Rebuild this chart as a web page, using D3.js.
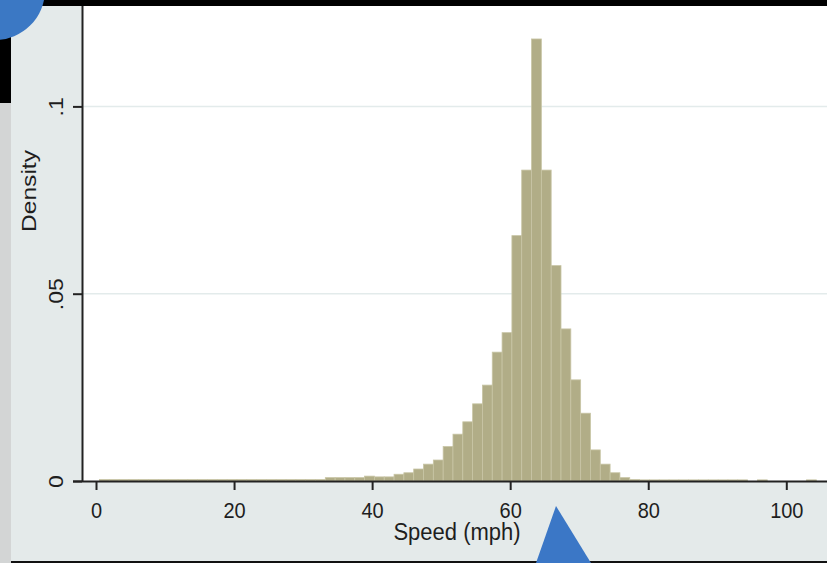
<!DOCTYPE html>
<html>
<head>
<meta charset="utf-8">
<script src="https://cdn.jsdelivr.net/npm/d3@7"></script>
<style>
  body { margin: 0; background: #e4eaea; }
  text { font-family: Arial, "Liberation Sans", sans-serif; fill: #1e1e1e; }
</style>
</head>
<body>
<script>
// histogram bins (speed in mph)
var binStart = 0.5;
var binWidth = 1.4226;
var densities = [
  0.0004, 0.0004, 0.0004, 0.0004, 0.0004, 0.0004, 0.0004, 0.0004,
  0.0004, 0.0004, 0.0004, 0.0004, 0.0004, 0.0004, 0.0004, 0.0004,
  0.0004, 0.0004, 0.0004, 0.0004, 0.0004, 0.0004, 0.0004,
  0.0009, 0.0009, 0.0009, 0.0009, 0.0013, 0.0011, 0.0011,
  0.0018, 0.0022, 0.0032, 0.0045, 0.0056, 0.0092, 0.0125, 0.0158,
  0.0206, 0.0256, 0.0344, 0.0396, 0.0655, 0.083, 0.118, 0.083,
  0.0575, 0.0406, 0.027, 0.0181, 0.0083, 0.0045, 0.0022, 0.0009,
  0.0004, 0.0003, 0.0003, 0.0003, 0.0003, 0.0003, 0.0003, 0.0003,
  0.0003, 0.0003, 0.0003, 0.0003, 0, 0.0003, 0, 0, 0, 0, 0.0003
];
var xTicks = [0, 20, 40, 60, 80, 100];
var yTicks = [0, 0.05, 0.1];
var yTickLabels = ["0", ".05", ".1"];

var svgWidth = 827;
var svgHeight = 563;

var svg = d3.select("body").append("svg")
    .attr("width", svgWidth)
    .attr("height", svgHeight);

// scales (fitted to the picture)
var xScale = d3.scaleLinear().domain([0, 100]).range([96, 786.3]);
var yScale = d3.scaleLinear().domain([0, 0.1]).range([481, 106.4]);

var plotLeft = 83, plotRight = 827, plotTop = 6, plotBottom = 481;

// outer panel
svg.append("rect").attr("x", 0).attr("y", 0).attr("width", svgWidth).attr("height", svgHeight)
    .attr("fill", "#e4eaea");
// edges of the screenshot
svg.append("rect").attr("x", 0).attr("y", 103).attr("width", 11).attr("height", svgHeight - 103)
    .attr("fill", "#d3d5d5");
svg.append("rect").attr("x", 0).attr("y", 0).attr("width", 11).attr("height", 103)
    .attr("fill", "#000");
svg.append("rect").attr("x", 0).attr("y", 0).attr("width", svgWidth).attr("height", 6)
    .attr("fill", "#000");
svg.append("rect").attr("x", 823).attr("y", 0).attr("width", 4).attr("height", 22)
    .attr("fill", "#000");
svg.append("rect").attr("x", 11).attr("y", 561).attr("width", svgWidth - 11).attr("height", 2)
    .attr("fill", "#111");

// plot region
svg.append("rect").attr("x", plotLeft).attr("y", plotTop)
    .attr("width", plotRight - plotLeft).attr("height", plotBottom - plotTop)
    .attr("fill", "#fff");

// gridlines
svg.selectAll("line.grid")
    .data(yTicks.slice(1))
    .enter()
    .append("line")
    .attr("class", "grid")
    .attr("x1", plotLeft).attr("x2", plotRight)
    .attr("y1", d => yScale(d)).attr("y2", d => yScale(d))
    .attr("stroke", "#e3ebeb")
    .attr("stroke-width", 1.5);

// bars (empty bins hidden, index kept)
svg.selectAll("rect.bar")
    .data(densities)
    .enter()
    .append("rect")
    .attr("class", "bar")
    .attr("display", d => d > 0 ? null : "none")
    .attr("x", (d, i) => xScale(binStart + i * binWidth))
    .attr("width", (d, i) => xScale(binStart + (i + 1) * binWidth) - xScale(binStart + i * binWidth))
    .attr("y", d => yScale(d))
    .attr("height", d => yScale(0) - yScale(d))
    .attr("fill", "#b1ad87")
    .attr("stroke", "#c8c5a5")
    .attr("stroke-width", 0.8);

// x axis
var bottomAxis = d3.axisBottom(xScale).tickValues(xTicks).tickSize(9).tickSizeOuter(0);
var xAxisG = svg.append("g").attr("transform", `translate(0, ${plotBottom})`).call(bottomAxis);
xAxisG.select(".domain").attr("d", `M${73},0.5H${plotRight}`).attr("stroke", "#222").attr("stroke-width", 2);
xAxisG.selectAll(".tick line").attr("stroke", "#222").attr("stroke-width", 2);
xAxisG.selectAll(".tick text")
    .attr("y", 0).attr("dy", 0)
    .attr("font-size", 20)
    .attr("transform", "translate(0, 37) scale(1, 1.12)")
    .style("fill", "#1e1e1e");

// y axis
var leftAxis = d3.axisLeft(yScale).tickValues(yTicks).tickSize(9).tickSizeOuter(0)
    .tickFormat((d, i) => yTickLabels[i]);
var yAxisG = svg.append("g").attr("transform", `translate(${plotLeft - 1}, 0)`).call(leftAxis);
yAxisG.select(".domain").attr("d", `M0.5,${plotTop}V${plotBottom + 1}`).attr("stroke", "#222").attr("stroke-width", 2);
yAxisG.selectAll(".tick line").attr("stroke", "#222").attr("stroke-width", 2);
yAxisG.selectAll(".tick text")
    .attr("x", 0).attr("dy", 0)
    .attr("font-size", 20)
    .attr("text-anchor", "middle")
    .attr("transform", "translate(-19, 0) scale(1.0, 1.15) rotate(-90)")
    .style("fill", "#1e1e1e");

// axis titles
svg.append("text")
    .attr("transform", `translate(457, 540) scale(1, 1.05)`)
    .attr("text-anchor", "middle")
    .attr("font-size", 22)
    .text("Speed (mph)");

svg.append("text")
    .attr("transform", `translate(36, 191) scale(1, 1.17) rotate(-90)`)
    .attr("text-anchor", "middle")
    .attr("font-size", 21)
    .text("Density");

// overlay shapes from the screenshot
svg.append("circle").attr("cx", -5).attr("cy", -10).attr("r", 50).attr("fill", "#3b78c4");
svg.append("path")
    .attr("d", "M556,506 L591,563 L536,563 Z")
    .attr("fill", "#3b77c6");
</script>
</body>
</html>
